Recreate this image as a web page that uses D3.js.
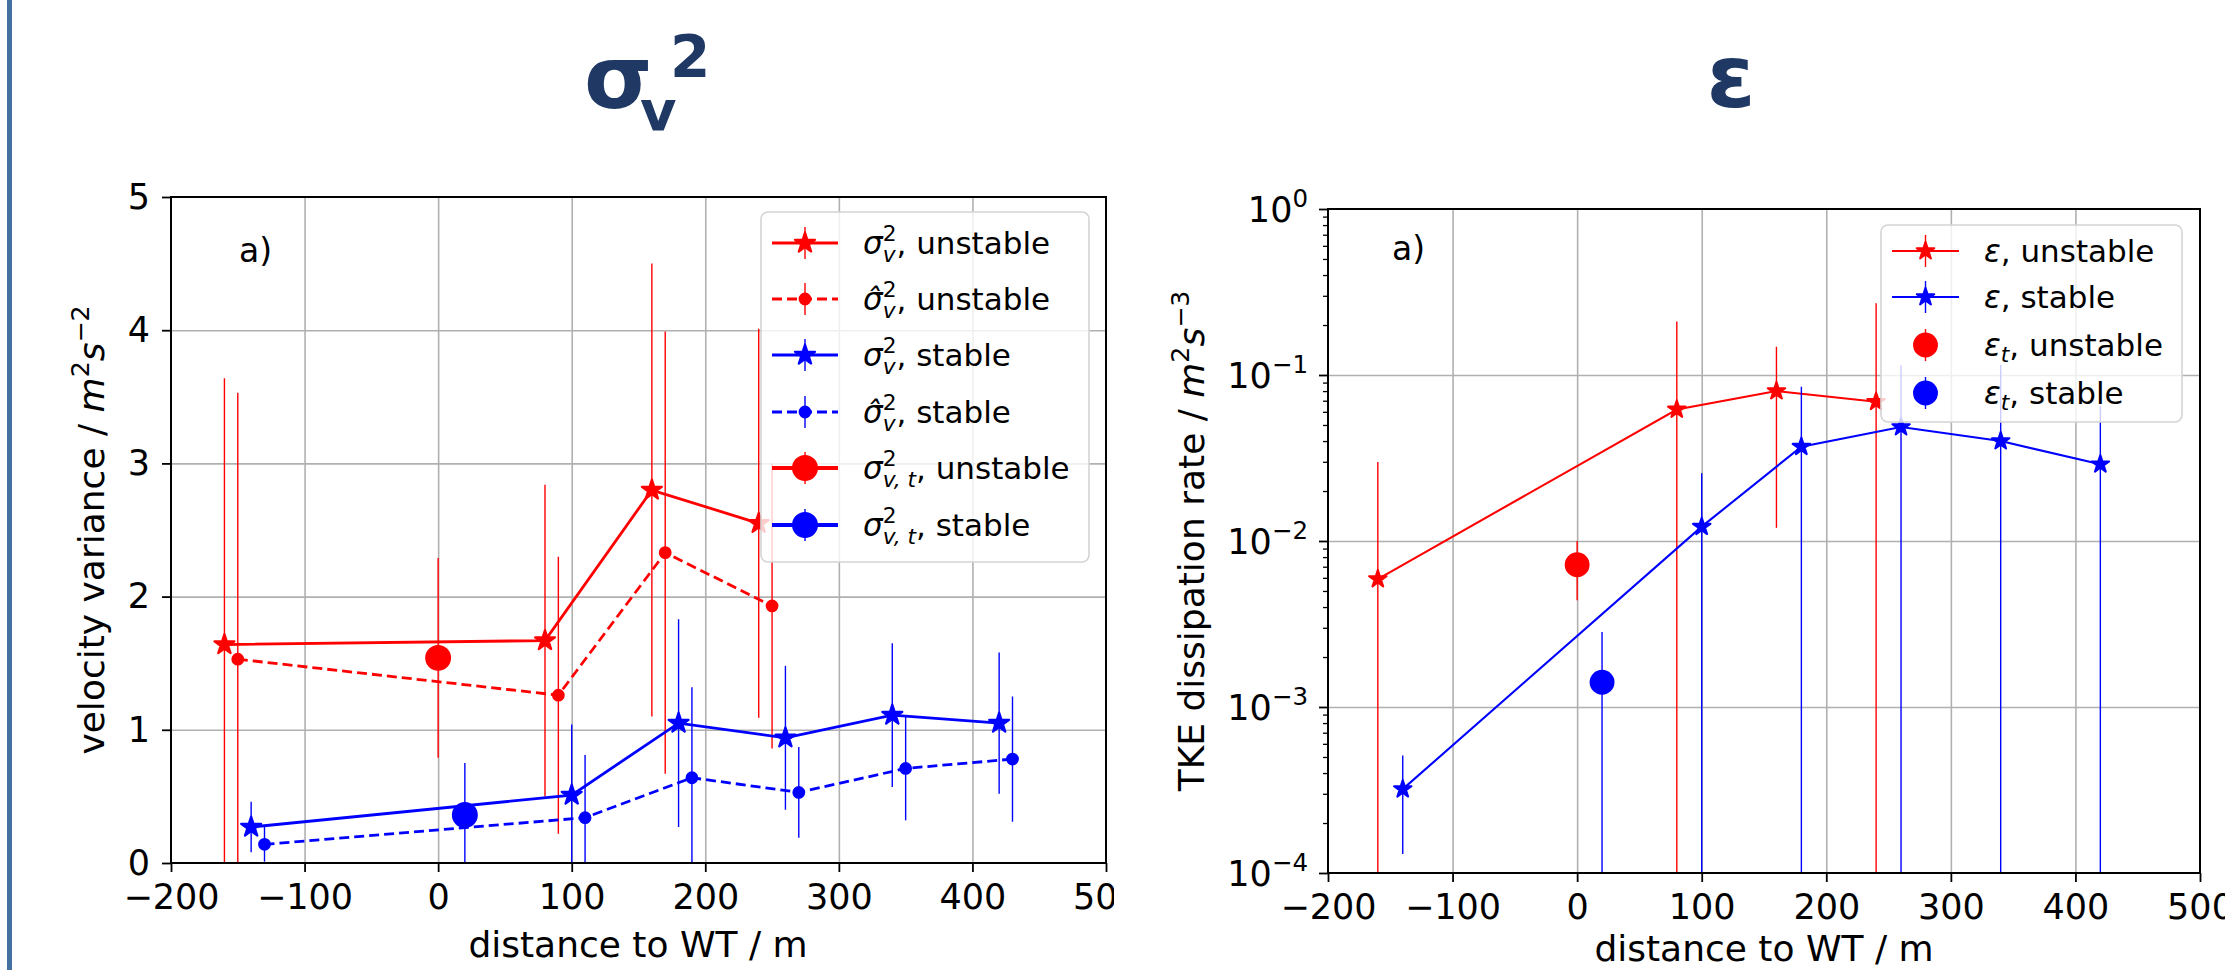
<!DOCTYPE html>
<meta charset="utf-8">
<script src="https://d3js.org/d3.v7.min.js"></script>
<style>
  body { margin: 0; background: #fff; }
  text { font-family: "DejaVu Sans", sans-serif; white-space: pre; }
</style>
<svg id="fig" width="2225" height="970"></svg>
<script>

// ---- data: panel sigma_v^2 (velocity variance) ----
var distSigU    = [-160, 80, 160, 240];
var sigU        = [1.64, 1.67, 2.80, 2.55];
var sigUErr     = [2.00, 1.17, 1.70, 1.46];

var distSigHatU = [-150, 90, 170, 250];
var sigHatU     = [1.53, 1.26, 2.33, 1.93];
var sigHatUErr  = [2.00, 1.04, 1.66, 1.07];

var distSigS    = [-140, 100, 180, 260, 340, 420];
var sigS        = [0.27, 0.51, 1.05, 0.94, 1.11, 1.05];
var sigSErr     = [0.19, 0.53, 0.78, 0.54, 0.54, 0.53];

var distSigHatS = [-130, 110, 190, 270, 350, 430];
var sigHatS     = [0.14, 0.34, 0.64, 0.53, 0.71, 0.78];
var sigHatSErr  = [0.13, 0.47, 0.68, 0.34, 0.39, 0.47];

var distSigT    = [0, 20];          // unstable, stable
var sigT        = [1.54, 0.36];
var sigTErr     = [0.75, 0.39];

// ---- data: panel epsilon (TKE dissipation rate) ----
var distEpsU = [-160, 80, 160, 240];
var epsU     = [0.0059, 0.062, 0.080, 0.069];
var epsUErr  = [0.024, 0.148, 0.068, 0.202];

var distEpsS = [-140, 100, 180, 260, 340, 420];
var epsS     = [0.00032, 0.0122, 0.037, 0.0486, 0.040, 0.029];
var epsSErr  = [0.00019, 0.0134, 0.048, 0.066, 0.075, 0.036];

var distEpsT = [0, 20];             // unstable, stable
var epsT     = [0.0072, 0.00141];
var epsTErr  = [0.0028, 0.00142];

var xTicks    = [-200, -100, 0, 100, 200, 300, 400, 500];
var sigTicks  = [0, 1, 2, 3, 4, 5];
var epsDecades = [-4, -3, -2, -1, 0];

var RED = "#ff0000", BLUE = "#0000ff", NAVY = "#1f3864";

var svg = d3.select("#fig");
svg.append("rect").attr("width", 2225).attr("height", 970).attr("fill", "#fff");
// slide border on the left
svg.append("rect").attr("x", 7).attr("y", 0).attr("width", 5).attr("height", 970).attr("fill", "#44709f");

// draws a little piece of "math" text: base / superscript / subscript pieces
function mtext(g, x, y, pieces, fs, anchor, rotate) {
  var grp = g.append("g");
  var cx = 0, lastStart = 0;
  var hasSup = pieces.some(function(p){ return p.pos == "sup"; });
  pieces.forEach(function(p){
    var small = p.pos == "sup" || p.pos == "sub";
    var sz = small ? fs * 0.7 : fs;
    var dy = p.pos == "sup" ? -fs * 0.42 : p.pos == "sub" ? fs * (hasSup ? 0.27 : 0.2) : 0;
    var px = p.stack ? lastStart : cx;
    var t = grp.append("text")
      .attr("x", px).attr("y", dy)
      .attr("font-size", sz)
      .attr("font-style", p.it ? "italic" : "normal")
      .text(p.t);
    var w = t.node().getComputedTextLength();
    if (p.stack) cx = Math.max(cx, px + w);
    else { lastStart = px; cx = px + w; }
  });
  var shift = anchor == "middle" ? -cx / 2 : anchor == "end" ? -cx : 0;
  grp.attr("transform", "translate(" + x + "," + y + ") rotate(" + (rotate || 0) + ") translate(" + shift + ",0)");
  return grp;
}

// one errorbar series: bars, optional line, markers
function series(g, xs, ys, es, x, y, o) {
  var pts = xs.map(function(d, i){ return {x: d, y: ys[i], e: es[i]}; });
  var lowY = function(d){ var v = d.y - d.e; return v > 0 ? y(v) : y.range()[0] + 50; };
  g.selectAll(null).data(pts).enter().append("line")
    .attr("x1", function(d){ return x(d.x); })
    .attr("x2", function(d){ return x(d.x); })
    .attr("y1", lowY)
    .attr("y2", function(d){ return y(d.y + d.e); })
    .attr("stroke", o.color).attr("stroke-width", o.ebw || 1.4);
  if (o.lw) {
    g.append("path").datum(pts)
      .attr("d", d3.line().x(function(d){ return x(d.x); }).y(function(d){ return y(d.y); }))
      .attr("fill", "none").attr("stroke", o.color).attr("stroke-width", o.lw)
      .attr("stroke-dasharray", o.dash || null);
  }
  g.selectAll(null).data(pts).enter().append("path")
    .attr("transform", function(d){ return "translate(" + x(d.x) + "," + y(d.y) + ")"; })
    .attr("d", d3.symbol(o.sym, o.size)())
    .attr("fill", o.color)
    .attr("stroke", o.color).attr("stroke-width", o.mew || 1.5).attr("stroke-linejoin", "round");
}

function legendEntry(g, x0, x1, yc, o) {
  var xm = (x0 + x1) / 2;
  g.append("line").attr("x1", xm).attr("x2", xm).attr("y1", yc - 16).attr("y2", yc + 16)
    .attr("stroke", o.color).attr("stroke-width", 1.4);
  if (o.lw) g.append("line").attr("x1", x0).attr("x2", x1).attr("y1", yc).attr("y2", yc)
    .attr("stroke", o.color).attr("stroke-width", o.lw).attr("stroke-dasharray", o.dash || null);
  g.append("path").attr("transform", "translate(" + xm + "," + yc + ")")
    .attr("d", d3.symbol(o.sym, o.size)()).attr("fill", o.color)
    .attr("stroke", o.color).attr("stroke-width", o.mew || 1.5).attr("stroke-linejoin", "round");
}

function styleAxis(a, fs) {
  a.attr("font-family", null).attr("font-size", fs);
  a.select(".domain").remove();
  a.selectAll(".tick line").attr("stroke", "#000").attr("stroke-width", 1.8);
  a.selectAll(".tick text").attr("fill", "#000");
}

// =================== left panel ===================
var defs = svg.append("defs");
defs.append("clipPath").attr("id", "leftClip").append("rect").attr("x", 0).attr("y", 0).attr("width", 1114).attr("height", 970);

var L = svg.append("g").attr("clip-path", "url(#leftClip)");
var lx = d3.scaleLinear().domain([-200, 500]).range([171, 1106]);
var ly = d3.scaleLinear().domain([0, 5]).range([863, 197]);

defs.append("clipPath").attr("id", "lPlot").append("rect")
  .attr("x", 171).attr("y", 197).attr("width", 935).attr("height", 666);

// grid
L.append("g").attr("transform", "translate(0,863)")
  .call(d3.axisBottom(lx).tickValues(xTicks.slice(1, -1)).tickSize(-666).tickFormat(""))
  .call(function(a){ a.select(".domain").remove(); a.selectAll("line").attr("stroke", "#b0b0b0").attr("stroke-width", 1.6); });
L.append("g").attr("transform", "translate(171,0)")
  .call(d3.axisLeft(ly).tickValues(sigTicks.slice(1, -1)).tickSize(-935).tickFormat(""))
  .call(function(a){ a.select(".domain").remove(); a.selectAll("line").attr("stroke", "#b0b0b0").attr("stroke-width", 1.6); });

var LD = L.append("g").attr("clip-path", "url(#lPlot)");
var star = d3.symbolStar, dot = d3.symbolCircle;
var oSigU    = {color: RED,  lw: 2.8, sym: star, size: 124, mew: 2.2};
var oSigHatU = {color: RED,  lw: 2.8, dash: "10,5", sym: dot, size: 100};
var oSigS    = {color: BLUE, lw: 2.8, sym: star, size: 124, mew: 2.2};
var oSigHatS = {color: BLUE, lw: 2.8, dash: "10,5", sym: dot, size: 100};
var oSigTU   = {color: RED,  lw: 0, sym: dot, size: 470};
var oSigTS   = {color: BLUE, lw: 0, sym: dot, size: 470};
series(LD, distSigU, sigU, sigUErr, lx, ly, oSigU);
series(LD, distSigHatU, sigHatU, sigHatUErr, lx, ly, oSigHatU);
series(LD, distSigS, sigS, sigSErr, lx, ly, oSigS);
series(LD, distSigHatS, sigHatS, sigHatSErr, lx, ly, oSigHatS);
series(LD, distSigT.slice(0, 1), sigT.slice(0, 1), sigTErr.slice(0, 1), lx, ly, oSigTU);
series(LD, distSigT.slice(1), sigT.slice(1), sigTErr.slice(1), lx, ly, oSigTS);

// axes
L.append("g").attr("transform", "translate(0,863)")
  .call(d3.axisBottom(lx).tickValues(xTicks).tickSize(9).tickPadding(12))
  .call(function(a){ styleAxis(a, 35); });
L.append("g").attr("transform", "translate(171,0)")
  .call(d3.axisLeft(ly).tickValues(sigTicks).tickSize(9).tickPadding(12).tickFormat(d3.format("d")))
  .call(function(a){ styleAxis(a, 35); });
L.append("rect").attr("x", 171).attr("y", 197).attr("width", 935).attr("height", 666)
  .attr("fill", "none").attr("stroke", "#000").attr("stroke-width", 2);

L.append("text").attr("x", 239).attr("y", 262).attr("font-size", 33).text("a)");

L.append("text").attr("x", 638).attr("y", 957).attr("font-size", 36).attr("text-anchor", "middle")
  .text("distance to WT / m");
mtext(L, 104, 530, [
  {t: "velocity variance / "}, {t: "m", it: 1}, {t: "2", pos: "sup"},
  {t: "s", it: 1}, {t: "\u22122", pos: "sup"}], 36, "middle", -90);

// legend
var lg = L.append("g");
lg.append("rect").attr("x", 761).attr("y", 212).attr("width", 328).attr("height", 350).attr("rx", 7)
  .attr("fill", "#fff").attr("fill-opacity", 0.8).attr("stroke", "#d4d4d4").attr("stroke-width", 1.6);
var sigLab = [
  [{t: "\u03c3", it: 1}, {t: "2", pos: "sup"}, {t: "v", pos: "sub", it: 1, stack: 1}, {t: ", unstable"}],
  [{t: "\u03c3\u0302", it: 1}, {t: "2", pos: "sup"}, {t: "v", pos: "sub", it: 1, stack: 1}, {t: ", unstable"}],
  [{t: "\u03c3", it: 1}, {t: "2", pos: "sup"}, {t: "v", pos: "sub", it: 1, stack: 1}, {t: ", stable"}],
  [{t: "\u03c3\u0302", it: 1}, {t: "2", pos: "sup"}, {t: "v", pos: "sub", it: 1, stack: 1}, {t: ", stable"}],
  [{t: "\u03c3", it: 1}, {t: "2", pos: "sup"}, {t: "v, t", pos: "sub", it: 1, stack: 1}, {t: ", unstable"}],
  [{t: "\u03c3", it: 1}, {t: "2", pos: "sup"}, {t: "v, t", pos: "sub", it: 1, stack: 1}, {t: ", stable"}]
];
var sigHandles = [oSigU, oSigHatU, oSigS, oSigHatS,
  {color: RED, lw: 4, sym: dot, size: 470}, {color: BLUE, lw: 4, sym: dot, size: 470}];
var sigRows = [243, 299, 355, 412, 468, 525];
sigRows.forEach(function(yc, i){
  legendEntry(lg, 772, 838, yc, sigHandles[i]);
  mtext(lg, 863, yc + 11, sigLab[i], 31, "start");
});

// title
svg.append("text").attr("x", 584).attr("y", 108).attr("font-family", "Open Sans, Noto Sans, sans-serif")
  .attr("font-weight", 700).attr("font-size", 88).attr("fill", NAVY).text("\u03c3");
svg.append("text").attr("x", 640).attr("y", 130).attr("font-family", "Open Sans, Noto Sans, sans-serif")
  .attr("font-weight", 700).attr("font-size", 56).attr("fill", NAVY).text("v");
svg.append("text").attr("x", 670).attr("y", 77).attr("font-family", "Open Sans, Noto Sans, sans-serif")
  .attr("font-weight", 700).attr("font-size", 58).attr("fill", NAVY).text("2");

// =================== right panel ===================
var R = svg.append("g");
var rx = d3.scaleLinear().domain([-200, 500]).range([1328, 2200]);
var ry = d3.scaleLog().domain([1e-4, 1]).range([873, 209]);
var decVals = epsDecades.map(function(p){ return Math.pow(10, p); });
var minorVals = [];
epsDecades.slice(0, -1).forEach(function(p){
  for (var k = 2; k <= 9; k++) minorVals.push(k * Math.pow(10, p));
});

defs.append("clipPath").attr("id", "rPlot").append("rect")
  .attr("x", 1328).attr("y", 209).attr("width", 872).attr("height", 664);

R.append("g").attr("transform", "translate(0,873)")
  .call(d3.axisBottom(rx).tickValues(xTicks.slice(1, -1)).tickSize(-664).tickFormat(""))
  .call(function(a){ a.select(".domain").remove(); a.selectAll("line").attr("stroke", "#b0b0b0").attr("stroke-width", 1.6); });
R.append("g").attr("transform", "translate(1328,0)")
  .call(d3.axisLeft(ry).tickValues(decVals.slice(1, -1)).tickSize(-872).tickFormat(""))
  .call(function(a){ a.select(".domain").remove(); a.selectAll("line").attr("stroke", "#b0b0b0").attr("stroke-width", 1.6); });

var RD = R.append("g").attr("clip-path", "url(#rPlot)");
var oEpsU  = {color: RED,  lw: 2.1, sym: star, size: 95, mew: 2};
var oEpsS  = {color: BLUE, lw: 2.1, sym: star, size: 95, mew: 2};
var oEpsTU = {color: RED,  lw: 0, sym: dot, size: 430};
var oEpsTS = {color: BLUE, lw: 0, sym: dot, size: 430};
series(RD, distEpsU, epsU, epsUErr, rx, ry, oEpsU);
series(RD, distEpsS, epsS, epsSErr, rx, ry, oEpsS);
series(RD, distEpsT.slice(0, 1), epsT.slice(0, 1), epsTErr.slice(0, 1), rx, ry, oEpsTU);
series(RD, distEpsT.slice(1), epsT.slice(1), epsTErr.slice(1), rx, ry, oEpsTS);

R.append("g").attr("transform", "translate(0,873)")
  .call(d3.axisBottom(rx).tickValues(xTicks).tickSize(9).tickPadding(12))
  .call(function(a){ styleAxis(a, 35); });
R.append("g").attr("transform", "translate(1328,0)")
  .call(d3.axisLeft(ry).tickValues(decVals).tickSize(9).tickFormat(""))
  .call(function(a){ styleAxis(a, 35); });
R.append("g").attr("transform", "translate(1328,0)")
  .call(d3.axisLeft(ry).tickValues(minorVals).tickSize(5).tickFormat(""))
  .call(function(a){ styleAxis(a, 35); a.selectAll(".tick line").attr("stroke-width", 1.3); });
epsDecades.forEach(function(p){
  mtext(R, 1308, ry(Math.pow(10, p)) + 13, [{t: "10"}, {t: (p < 0 ? "\u2212" : "") + Math.abs(p), pos: "sup"}], 35, "end");
});
R.append("rect").attr("x", 1328).attr("y", 209).attr("width", 872).attr("height", 664)
  .attr("fill", "none").attr("stroke", "#000").attr("stroke-width", 2);

R.append("text").attr("x", 1392).attr("y", 260).attr("font-size", 33).text("a)");
R.append("text").attr("x", 1764).attr("y", 961).attr("font-size", 36).attr("text-anchor", "middle")
  .text("distance to WT / m");
mtext(R, 1204, 541, [
  {t: "TKE dissipation rate / "}, {t: "m", it: 1}, {t: "2", pos: "sup"},
  {t: "s", it: 1}, {t: "\u22123", pos: "sup"}], 36, "middle", -90);

var rg = R.append("g");
rg.append("rect").attr("x", 1881).attr("y", 225).attr("width", 301).attr("height", 197).attr("rx", 7)
  .attr("fill", "#fff").attr("fill-opacity", 0.8).attr("stroke", "#d4d4d4").attr("stroke-width", 1.6);
var epsLab = [
  [{t: "\u03b5", it: 1}, {t: ", unstable"}],
  [{t: "\u03b5", it: 1}, {t: ", stable"}],
  [{t: "\u03b5", it: 1}, {t: "t", pos: "sub", it: 1}, {t: ", unstable"}],
  [{t: "\u03b5", it: 1}, {t: "t", pos: "sub", it: 1}, {t: ", stable"}]
];
var epsHandles = [oEpsU, oEpsS, {color: RED, lw: 0, sym: dot, size: 430}, {color: BLUE, lw: 0, sym: dot, size: 430}];
[251, 297, 345, 393].forEach(function(yc, i){
  legendEntry(rg, 1892, 1959, yc, epsHandles[i]);
  mtext(rg, 1984, yc + 11, epsLab[i], 31, "start");
});

svg.append("text").attr("x", 1731).attr("y", 107).attr("text-anchor", "middle")
  .attr("font-family", "Open Sans, Noto Sans, sans-serif")
  .attr("font-weight", 700).attr("font-size", 88).attr("fill", NAVY).text("\u03b5");

</script>
